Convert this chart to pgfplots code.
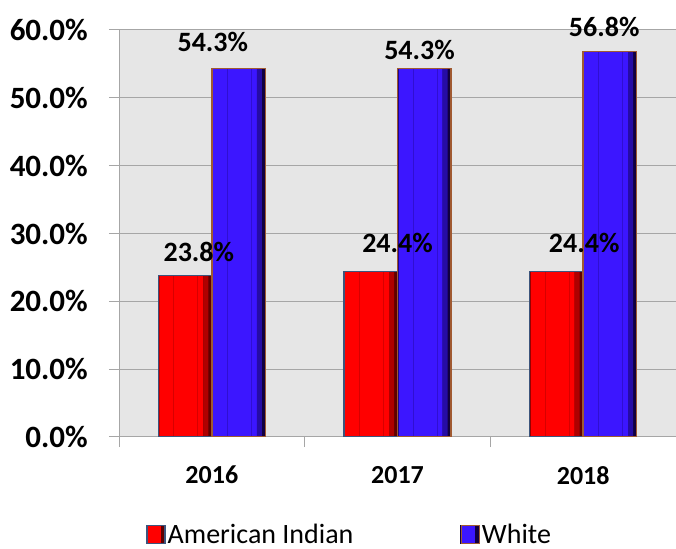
\documentclass[border=0pt]{standalone}
\usepackage{pgfplots}
\pgfplotsset{compat=1.18}
\usepackage{pgfplotstable}
\usepackage{fontspec}
\setmainfont{Carlito}
\definecolor{gridc}{RGB}{166,166,166}
\definecolor{bgc}{RGB}{230,230,230}
\definecolor{redmain}{RGB}{255,0,0}
\definecolor{redmid}{RGB}{175,0,0}
\definecolor{reddark}{RGB}{95,0,0}
\definecolor{redline}{RGB}{215,0,0}
\definecolor{redborder}{RGB}{60,85,125}
\definecolor{bluemain}{RGB}{60,22,255}
\definecolor{bluemid}{RGB}{38,12,165}
\definecolor{bluedark}{RGB}{18,0,65}
\definecolor{blueline}{RGB}{48,15,210}
\definecolor{blueborder}{RGB}{160,90,50}
\pgfplotstableread{
x y
0 23.8
1 24.4
2 24.4
}\redtab
\pgfplotstableread{
x y
0 54.3
1 54.3
2 56.8
}\bluetab
\pgfplotsset{
  lay/.style={ybar, draw=none, forget plot},
  lbl/.style 2 args={every node near coord/.append style={xshift=#1pt, yshift=#2pt}},
}
\begin{document}
\begin{tikzpicture}[x=1pt,y=1pt]
\useasboundingbox (0,0) rectangle (676,548);
\begin{axis}[
  at={(119pt,111pt)}, anchor=south west,
  width=557pt, height=407pt, scale only axis,
  xmin=-0.5, xmax=2.5, ymin=0, ymax=60,
  axis x line*=bottom, axis y line*=left,
  axis line style={gridc, line width=1pt},
  ytick={0,10,...,60},
  ymajorgrids, grid style={gridc, line width=1pt},
  xtick={-0.5,0.5,1.5,2.5}, x tick label as interval, xticklabels={2016,2017,2018},
  tick align=outside, major tick length=10pt, tick style={gridc, line width=1pt},
  yticklabel={\pgfmathprintnumber[fixed,fixed zerofill,precision=1]{\tick}\%},
  /pgf/number format/assume math mode=true,
  y tick label style={font=\fontsize{31}{36}\selectfont\bfseries, inner sep=0pt, anchor=east, xshift=-21pt},
  x tick label style={font=\fontsize{26}{30}\selectfont\bfseries, inner sep=0pt, anchor=north, yshift=-19pt},
  axis background/.style={fill=bgc},
  legend columns=2,
  legend style={draw=none, fill=none, at={(0.414,-0.240)}, anchor=center, font=\fontsize{28}{32}\selectfont, /tikz/every even column/.append style={column sep=105pt}},
  legend cell align=left,
]
% red series: layered bevel look
\addplot[lay, bar width=53.5pt, bar shift=-26.75pt, fill=reddark] table[x=x,y=y] {\redtab};
\addplot[lay, bar width=44pt, bar shift=-30.5pt, fill=redmain] table[x=x,y=y] {\redtab};
\addplot[lay, bar width=5pt, bar shift=-6pt, fill=redmid] table[x=x,y=y] {\redtab};
\addplot[lay, bar width=24pt, bar shift=-26pt, draw=redline, line width=0.8pt, fill=none] table[x=x,y=y] {\redtab};
% blue series
\addplot[lay, bar width=53.5pt, bar shift=26.75pt, fill=bluedark] table[x=x,y=y] {\bluetab};
\addplot[lay, bar width=44pt, bar shift=23pt, fill=bluemain] table[x=x,y=y] {\bluetab};
\addplot[lay, bar width=5pt, bar shift=47.5pt, fill=bluemid] table[x=x,y=y] {\bluetab};
\addplot[lay, bar width=24pt, bar shift=27.5pt, draw=blueline, line width=0.8pt, fill=none] table[x=x,y=y] {\bluetab};
% borders and legend
\addplot[ybar, bar width=53.5pt, bar shift=-26.75pt, draw=redborder, line width=1.5pt, fill=none,
  legend image code/.code={\fill[reddark] (0pt,-9pt) rectangle (18pt,9pt); \fill[redmain] (1pt,-8pt) rectangle (13pt,8pt); \draw[redborder, line width=1.2pt] (0pt,-9pt) rectangle (18pt,9pt);}]
  table[x=x,y=y] {\redtab};
\addlegendentry{American Indian}
\addplot[ybar, bar width=53.5pt, bar shift=26.75pt, draw=blueborder, line width=1.5pt, fill=none,
  legend image code/.code={\fill[bluedark] (0pt,-9pt) rectangle (18pt,9pt); \fill[bluemain] (1pt,-8pt) rectangle (13pt,8pt); \draw[blueborder, line width=1.2pt] (0pt,-9pt) rectangle (18pt,9pt);}]
  table[x=x,y=y] {\bluetab};
\addlegendentry{White}
% data labels
\pgfplotsset{lblstyle/.style={ybar, draw=none, fill=none, forget plot, bar width=53.5pt,
  nodes near coords={\pgfmathprintnumber[fixed,fixed zerofill,precision=1]{\pgfplotspointmeta}\%},
  every node near coord/.append style={font=\fontsize{28}{32}\selectfont\bfseries, anchor=south, inner sep=0pt, text=black}}}
\addplot[lblstyle, bar shift=-26.75pt, lbl={-13}{14}] coordinates {(0,23.8)};
\addplot[lblstyle, bar shift=-26.75pt, lbl={0}{19}] coordinates {(1,24.4)};
\addplot[lblstyle, bar shift=-26.75pt, lbl={1}{19}] coordinates {(2,24.4)};
\addplot[lblstyle, bar shift=26.75pt, lbl={1}{17}] coordinates {(0,54.3)};
\addplot[lblstyle, bar shift=26.75pt, lbl={22}{9}] coordinates {(1,54.3)};
\addplot[lblstyle, bar shift=26.75pt, lbl={21}{15}] coordinates {(2,56.8)};
\end{axis}
\end{tikzpicture}
\end{document}
